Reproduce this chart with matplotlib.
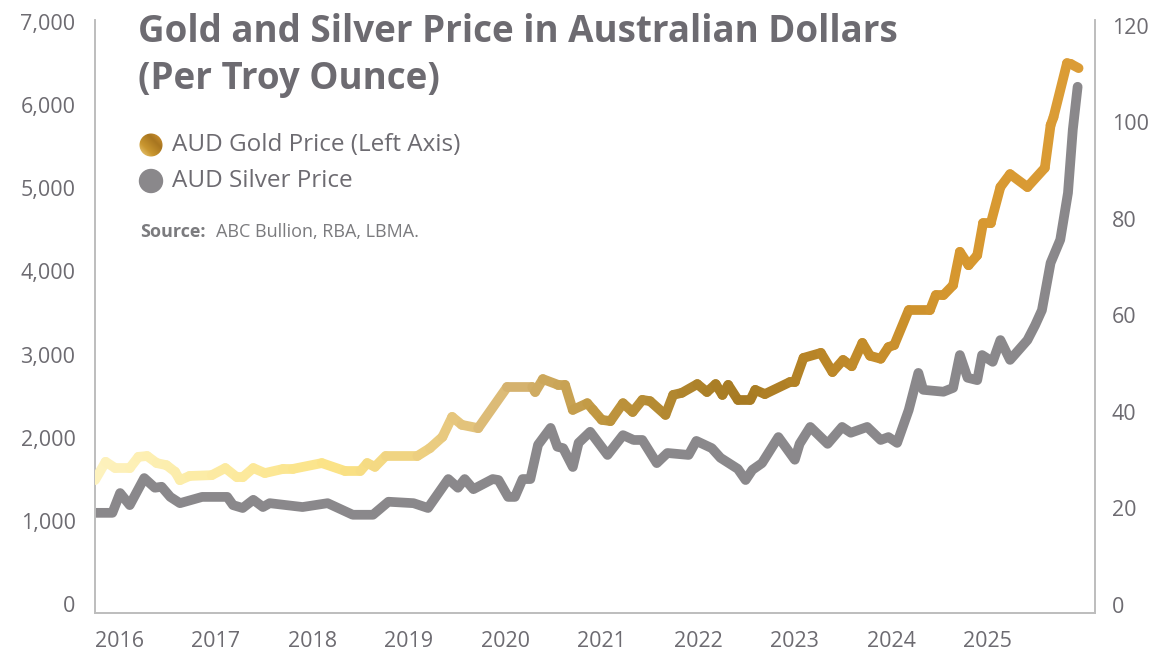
import numpy as np
import matplotlib
matplotlib.use("Agg")
import matplotlib.pyplot as plt
from matplotlib.collections import LineCollection
from matplotlib.colors import LinearSegmentedColormap
from matplotlib.patches import Circle

# gold price, AUD per oz (left axis); dates as decimal years
gold_t = [2015.75, 2015.86, 2015.96, 2016.11, 2016.20, 2016.29, 2016.39, 2016.49,
          2016.58, 2016.63, 2016.73, 2016.96, 2017.10, 2017.22, 2017.28, 2017.39,
          2017.51, 2017.70, 2017.80, 2018.10, 2018.34, 2018.50, 2018.57, 2018.65,
          2018.76, 2019.09, 2019.22, 2019.35, 2019.45, 2019.55, 2019.72, 2020.02,
          2020.28, 2020.31, 2020.39, 2020.55, 2020.62, 2020.70, 2020.85, 2020.91,
          2021.00, 2021.09, 2021.22, 2021.32, 2021.42, 2021.50, 2021.66, 2021.74,
          2021.83, 2021.99, 2022.09, 2022.18, 2022.25, 2022.31, 2022.41, 2022.54,
          2022.59, 2022.69, 2022.95, 2023.00, 2023.09, 2023.27, 2023.39, 2023.50,
          2023.59, 2023.70, 2023.78, 2023.89, 2023.97, 2024.03, 2024.18, 2024.40,
          2024.46, 2024.54, 2024.64, 2024.71, 2024.80, 2024.89, 2024.95, 2025.03,
          2025.13, 2025.23, 2025.41, 2025.59, 2025.65, 2025.68, 2025.82, 2025.86,
          2025.94]
gold_v = [1490, 1710, 1635, 1635, 1770, 1780, 1695, 1670,
          1590, 1490, 1540, 1550, 1635, 1525, 1525, 1635,
          1575, 1625, 1625, 1695, 1600, 1600, 1695, 1650,
          1780, 1780, 1875, 2010, 2250, 2155, 2115, 2610,
          2610, 2550, 2705, 2635, 2635, 2335, 2415, 2335,
          2215, 2200, 2415, 2310, 2455, 2440, 2275, 2515,
          2540, 2645, 2550, 2645, 2515, 2635, 2455, 2455,
          2575, 2525, 2670, 2670, 2960, 3020, 2790, 2935,
          2860, 3140, 2985, 2950, 3090, 3115, 3535, 3535,
          3715, 3715, 3835, 4235, 4075, 4195, 4580, 4580,
          5015, 5170, 5015, 5245, 5760, 5855, 6505, 6495,
          6445]

# silver price, AUD per oz (right axis)
silver_t = [2015.75, 2015.93, 2016.01, 2016.11, 2016.26, 2016.37, 2016.44, 2016.53,
            2016.63, 2016.86, 2017.12, 2017.18, 2017.28, 2017.39, 2017.49, 2017.56,
            2017.90, 2018.16, 2018.42, 2018.63, 2018.79, 2019.05, 2019.20, 2019.41,
            2019.51, 2019.58, 2019.67, 2019.87, 2019.93, 2020.03, 2020.10, 2020.18,
            2020.26, 2020.34, 2020.47, 2020.54, 2020.60, 2020.70, 2020.76, 2020.88,
            2021.06, 2021.22, 2021.33, 2021.42, 2021.57, 2021.68, 2021.90, 2021.98,
            2022.14, 2022.23, 2022.41, 2022.49, 2022.56, 2022.66, 2022.83, 2023.00,
            2023.05, 2023.16, 2023.34, 2023.49, 2023.58, 2023.75, 2023.89, 2023.97,
            2024.06, 2024.18, 2024.28, 2024.33, 2024.54, 2024.64, 2024.71, 2024.79,
            2024.89, 2024.94, 2025.05, 2025.13, 2025.23, 2025.41, 2025.49, 2025.56,
            2025.65, 2025.75, 2025.83, 2025.88, 2025.93]
silver_v = [19.1, 19.1, 23.2, 20.7, 26.3, 24.3, 24.5, 22.4,
            21.1, 22.4, 22.4, 20.7, 20.1, 21.8, 20.3, 21.1,
            20.3, 21.1, 18.7, 18.7, 21.4, 21.1, 20.1, 26.1,
            24.3, 26.1, 24.0, 26.1, 25.9, 22.4, 22.4, 26.1,
            26.1, 33.2, 36.7, 32.8, 32.5, 28.6, 33.6, 35.9,
            31.1, 35.2, 34.2, 34.2, 29.4, 31.5, 31.1, 34.0,
            32.5, 30.5, 28.2, 25.9, 28.0, 29.4, 34.8, 30.1,
            33.4, 36.9, 33.4, 36.9, 35.7, 36.9, 34.2, 34.8,
            33.6, 40.4, 48.1, 44.6, 44.2, 45.0, 51.8, 47.1,
            46.6, 51.8, 50.4, 54.9, 50.8, 54.9, 58.0, 61.1,
            70.9, 75.7, 85.4, 98.5, 107.4]

years = list(range(2016, 2026))
left_ticks = [0, 1000, 2000, 3000, 4000, 5000, 6000, 7000]
right_ticks = [0, 20, 40, 60, 80, 100, 120]

title = "Gold and Silver Price in Australian Dollars\n(Per Troy Ounce)"
gold_label = "AUD Gold Price (Left Axis)"
silver_label = "AUD Silver Price"

TXT = "#6d6b71"
SPINE = "#bdbdbd"
SILVER = "#8a888b"
gold_cmap = LinearSegmentedColormap.from_list("gold", [
    (0.00, "#fdf2bf"), (0.25, "#fbe385"), (0.36, "#e8c97f"), (0.42, "#d8b674"),
    (0.52, "#bf963f"), (0.66, "#a67a22"), (0.76, "#bd8829"), (0.88, "#d6972f"),
    (1.00, "#db9c36")])

plt.rcParams["font.family"] = ["Open Sans", "DejaVu Sans"]

W, H = 1159, 657
fig = plt.figure(figsize=(W / 100, H / 100), dpi=100)
ax = fig.add_axes([95 / W, 44 / H, 1000 / W, 593 / H])
ax2 = ax.twinx()

x0, x1 = 2015.75, 2026.11
ax.set_xlim(x0, x1)
ax.set_ylim(-108, 7024)
ax2.set_ylim(-1.66, 121.24)

# silver line on the right axis
ax2.plot(silver_t, silver_v, color=SILVER, lw=7, solid_capstyle="round",
         solid_joinstyle="round", zorder=2)

# gold line with a colour gradient along time
pts = np.column_stack([gold_t, gold_v]).reshape(-1, 1, 2)
segs = np.concatenate([pts[:-1], pts[1:]], axis=1)
mid = (np.array(gold_t[:-1]) + np.array(gold_t[1:])) / 2
lc = LineCollection(segs, cmap=gold_cmap, norm=plt.Normalize(x0, 2025.9),
                    linewidths=7, capstyle="round", joinstyle="round", zorder=3)
lc.set_array(mid)
ax2.set_zorder(ax.get_zorder() - 1)
ax.patch.set_visible(False)
ax.add_collection(lc)

for a in (ax, ax2):
    a.spines["top"].set_visible(False)
    for s in ("left", "right", "bottom"):
        a.spines[s].set_color(SPINE)
        a.spines[s].set_linewidth(1.2)
    a.tick_params(length=0, colors=TXT, labelsize=15.5)

ax.set_xticks(years)
ax.set_xticklabels([str(y) for y in years])
ax.tick_params(axis="x", pad=13)
ax.set_yticks(left_ticks)
ax.set_yticklabels([f"{v:,}" for v in left_ticks])
ax.tick_params(axis="y", pad=14)
ax2.set_yticks(right_ticks)
ax2.set_yticklabels([str(v) for v in right_ticks])
ax2.tick_params(axis="y", pad=12)

fig.text(138 / W, 1 - 13 / H, title, fontsize=26.5, fontweight="bold",
         color=TXT, va="top", ha="left", linespacing=1.3)

# legend
lx, ly1, ly2 = 151, 145, 181
lax = fig.add_axes([(lx - 12) / W, 1 - (ly1 + 12) / H, 24 / W, 24 / H])
lax.set_axis_off()
grad = np.linspace(0, 1, 64)
img = lax.imshow(np.add.outer(grad, grad)[::-1], cmap=LinearSegmentedColormap.from_list(
    "lg", ["#f0d58a", "#c9962f", "#a87620", "#d89a35"]), extent=(0, 1, 0, 1))
circ = Circle((0.5, 0.5), 0.48, transform=lax.transData)
img.set_clip_path(circ)
lax.set_xlim(0, 1)
lax.set_ylim(0, 1)
dot = Circle((lx / 100, (H - ly2) / 100), 11.5 / 100, color=SILVER,
             transform=fig.dpi_scale_trans)
fig.patches.append(dot)
fig.text(172 / W, 1 - ly1 / H, gold_label, fontsize=17.5, color=TXT, va="center")
fig.text(172 / W, 1 - ly2 / H, silver_label, fontsize=17.5, color=TXT, va="center")

fig.text(140 / W, 1 - 232 / H, "Source:", fontsize=13, fontweight="bold",
         color="#7b7b7e", va="center")
fig.text(216 / W, 1 - 232 / H, "ABC Bullion, RBA, LBMA.", fontsize=13,
         color="#7b7b7e", va="center")

fig.savefig("out.png", dpi=100)
